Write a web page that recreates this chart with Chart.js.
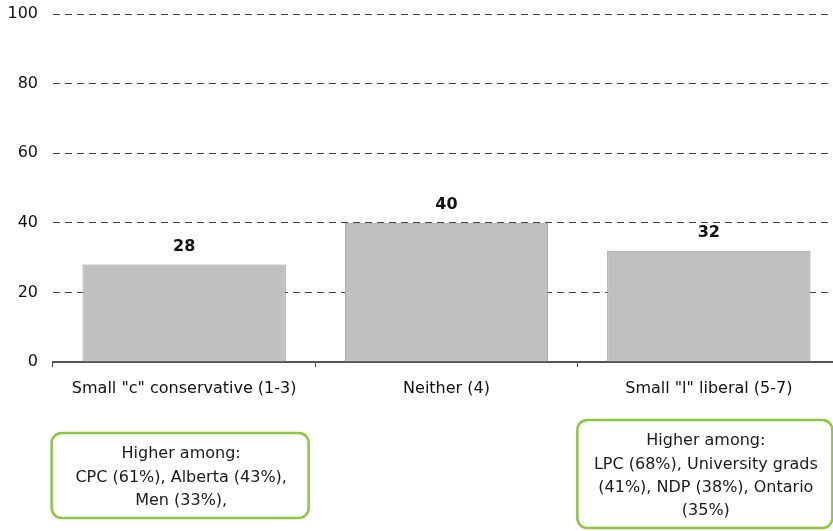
<!DOCTYPE html>
<html>
<head>
<meta charset="utf-8">
<script src="https://cdn.jsdelivr.net/npm/chart.js@4/dist/chart.umd.min.js"></script>
<style>
  html, body { margin: 0; padding: 0; background: #fff; overflow: hidden; }
  #wrap { width: 833px; height: 531px; position: relative; overflow: hidden; }
  #c { position: absolute; left: 0; top: 0; }
</style>
</head>
<body>
<div id="wrap"><canvas id="c" width="840" height="531"></canvas></div>
<script>
// Self-placement on the ideology scale (%)
const categories = ['Small "c" conservative (1-3)', 'Neither (4)', 'Small "l" liberal (5-7)'];
const shares = [28, 40, 32];
const yTicks = [0, 20, 40, 60, 80, 100];

// Call-out notes under the outer categories
const noteCategories = [0, 2];
const noteLines = [
  ['Higher among:', 'CPC (61%), Alberta (43%),', 'Men (33%),'],
  ['Higher among:', 'LPC (68%), University grads', '(41%), NDP (38%), Ontario', '(35%)']
];

const FONT = "'DejaVu Sans', Verdana, sans-serif";

// Bold value above each bar
const valueLabels = {
  id: 'valueLabels',
  afterDatasetsDraw(chart) {
    const ctx = chart.ctx;
    const meta = chart.getDatasetMeta(0);
    ctx.save();
    ctx.font = 'bold 16px ' + FONT;
    ctx.fillStyle = '#111';
    ctx.textAlign = 'center';
    ctx.textBaseline = 'middle';
    meta.data.forEach((bar, i) => {
      ctx.fillText(String(shares[i]), bar.x, bar.y - 18);
    });
    ctx.restore();
  }
};

// Rounded green boxes with notes
const noteBoxes = {
  id: 'noteBoxes',
  afterDraw(chart) {
    const ctx = chart.ctx;
    const x = chart.scales.x;
    const boxes = [
      { w: 257, top: 433, h: 85 },
      { w: 255, top: 420, h: 108 }
    ];
    ctx.save();
    noteCategories.forEach((cat, k) => {
      const b = boxes[k];
      const cx = x.getPixelForValue(cat) - 4;
      const left = cx - b.w / 2;
      ctx.beginPath();
      ctx.roundRect(left, b.top, b.w, b.h, 10);
      ctx.lineWidth = 2.5;
      ctx.strokeStyle = '#8cc63f';
      ctx.stroke();
      ctx.font = '16px ' + FONT;
      ctx.fillStyle = '#1a1a1a';
      ctx.textAlign = 'center';
      ctx.textBaseline = 'middle';
      const lines = noteLines[k];
      const lh = 23.3;
      const mid = b.top + b.h / 2 + 2;
      const start = mid - (lines.length - 1) * lh / 2;
      lines.forEach((t, j) => ctx.fillText(t, cx + 1, start + j * lh));
    });
    ctx.restore();
  }
};

new Chart(document.getElementById('c'), {
  type: 'bar',
  data: {
    labels: categories,
    datasets: [{
      data: shares,
      backgroundColor: '#c0c0c0',
      borderColor: '#999999',
      borderWidth: 1,
      borderSkipped: false,
      barPercentage: 1,
      categoryPercentage: 0.775
    }]
  },
  options: {
    responsive: false,
    animation: false,
    devicePixelRatio: 1,
    layout: { padding: { top: 14, right: 0, bottom: 0, left: 0 } },
    plugins: { legend: { display: false }, tooltip: { enabled: false } },
    scales: {
      x: {
        grid: {
          display: true,
          drawOnChartArea: false,
          drawTicks: true,
          offset: true,
          tickLength: 5,
          color: '#444',
          lineWidth: 1
        },
        border: { display: true, color: '#555', width: 2 },
        ticks: { color: '#111', font: { family: FONT, size: 16 }, padding: 12, maxRotation: 0, autoSkip: false },
        afterFit(s) { s.height = 169; }
      },
      y: {
        min: 0,
        max: 100,
        afterBuildTicks(s) { s.ticks = yTicks.map(v => ({ value: v })); },
        grid: {
          color: '#444',
          lineWidth: 1,
          drawTicks: false
        },
        border: { display: false, dash: [7, 5] },
        ticks: { color: '#111', font: { family: FONT, size: 16 }, padding: 15 },
        afterFit(s) {
          s.width = 53;
          s.paddingTop = 0;
          s.paddingBottom = 0;
        }
      }
    }
  },
  plugins: [valueLabels, noteBoxes]
});
</script>
</body>
</html>
